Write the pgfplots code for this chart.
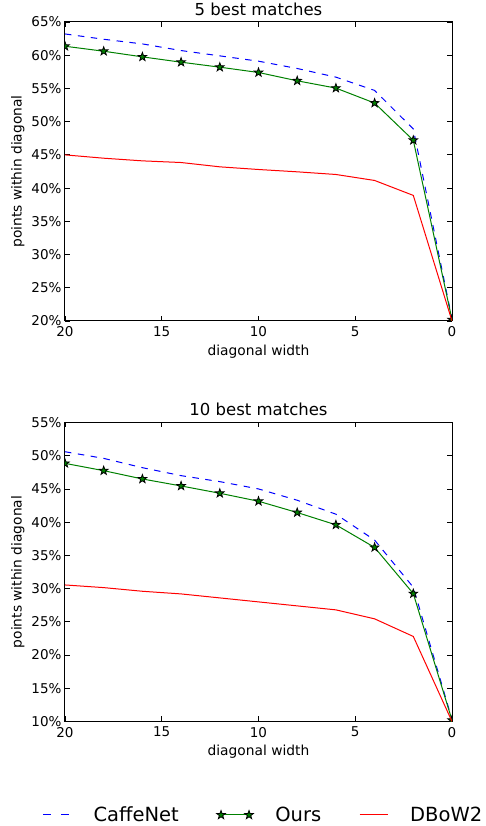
\documentclass[border=0pt]{standalone}
\usepackage{fontspec}
\setmainfont{DejaVu Sans}
\usepackage{pgfplots}
\pgfplotsset{compat=1.18}
\pgfdeclareplotmark{fstar}{%
  \pgfpathmoveto{\pgfpointpolar{90}{\pgfplotmarksize}}%
  \pgfpathlineto{\pgfpointpolar{126}{0.4\pgfplotmarksize}}%
  \pgfpathlineto{\pgfpointpolar{162}{\pgfplotmarksize}}%
  \pgfpathlineto{\pgfpointpolar{198}{0.4\pgfplotmarksize}}%
  \pgfpathlineto{\pgfpointpolar{234}{\pgfplotmarksize}}%
  \pgfpathlineto{\pgfpointpolar{270}{0.4\pgfplotmarksize}}%
  \pgfpathlineto{\pgfpointpolar{306}{\pgfplotmarksize}}%
  \pgfpathlineto{\pgfpointpolar{342}{0.4\pgfplotmarksize}}%
  \pgfpathlineto{\pgfpointpolar{18}{\pgfplotmarksize}}%
  \pgfpathlineto{\pgfpointpolar{54}{0.4\pgfplotmarksize}}%
  \pgfpathclose
  \pgfusepathqfillstroke}
\definecolor{mgreen}{rgb}{0,0.5,0}
\pgfplotstableread{
x caffe ours dbow
20 63.2 61.35 45.0
18 62.4 60.6 44.5
16 61.7 59.75 44.1
14 60.7 58.95 43.85
12 59.9 58.2 43.2
10 59.1 57.4 42.8
8 58.0 56.15 42.45
6 56.7 55.05 42.05
4 54.7 52.8 41.15
2 48.9 47.2 38.9
0 20.3 20.2 20.0
}\topdata
\pgfplotstableread{
x caffe ours dbow
20 50.6 48.85 30.55
18 49.6 47.75 30.15
16 48.2 46.5 29.6
14 47.0 45.45 29.2
12 46.1 44.35 28.6
10 45.0 43.15 28.0
8 43.3 41.45 27.4
6 41.2 39.6 26.8
4 37.3 36.2 25.45
2 30.2 29.25 22.8
0 10.3 10.2 10.0
}\botdata
\pgfplotsset{
  myaxis/.style={
    width=387pt, height=299pt, scale only axis,
    xmin=0, xmax=20, x dir=reverse,
    xtick={0,5,10,15,20},
    ytick distance=5,
    tick align=inside, major tick length=5pt,
    tick style={black, line width=0.8pt},
    axis line style={line width=1pt},
    xlabel={diagonal width}, ylabel={points within diagonal},
    ticklabel style={font=\fontsize{13.5}{15}\selectfont},
    xticklabel style={yshift=-2pt},
    label style={font=\fontsize{13.8}{15}\selectfont},
    xlabel style={yshift=-1pt},
    title style={font=\fontsize{16.5}{18}\selectfont, yshift=-3pt},
    yticklabel={\pgfmathprintnumber{\tick}\%},
    /pgf/number format/assume math mode=true,
    clip marker paths=true,
    every axis plot/.append style={line width=1pt},
  },
  caffe/.style={blue, dash pattern=on 6.5pt off 6.5pt, no markers,
    legend image post style={dash pattern=on 8pt off 10pt}},
  ours/.style={mgreen, mark=fstar, mark size=4.5pt, mark options={solid, fill=mgreen, draw=black, line width=0.8pt}},
  dbow/.style={red, no markers},
}
\begin{document}
\begin{tikzpicture}[x=1pt,y=1pt]
\path[use as bounding box] (0,0) rectangle (485,826);
\begin{axis}[myaxis, at={(65pt,505pt)}, anchor=south west,
  ymin=20, ymax=65, title={5 best matches}]
\addplot[caffe] table[x=x,y=caffe] {\topdata};
\addplot[ours] table[x=x,y=ours] {\topdata};
\addplot[dbow] table[x=x,y=dbow] {\topdata};
\end{axis}
\begin{axis}[myaxis, at={(65pt,104.5pt)}, anchor=south west,
  ymin=10, ymax=55, title={10 best matches},
  legend columns=3,
  legend style={at={(0.51,-0.3127)}, anchor=center, draw=none, fill=none,
    font=\fontsize{19.5}{21}\selectfont, inner sep=0pt,
    nodes={inner sep=0pt},
    /tikz/every odd column/.append style={column sep=22pt},
    /tikz/every even column/.append style={column sep=38pt}},
  legend image code/.code={\draw[#1] plot coordinates {(0pt,0pt) (28pt,0pt)};},
]
\addplot[caffe] table[x=x,y=caffe] {\botdata};
\addlegendentry{CaffeNet}
\addplot[ours] table[x=x,y=ours] {\botdata};
\addlegendentry{Ours}
\addplot[dbow] table[x=x,y=dbow] {\botdata};
\addlegendentry{DBoW2}
\end{axis}
\end{tikzpicture}
\end{document}
